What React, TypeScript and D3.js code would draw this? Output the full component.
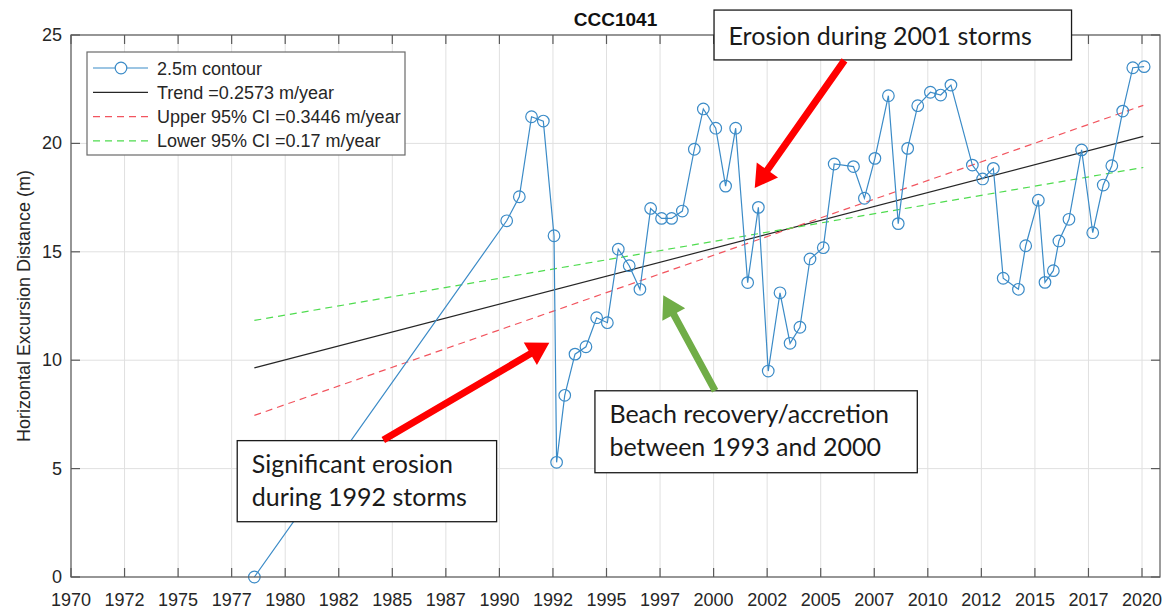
import React from "react";
import * as d3 from "d3";

// ---------- data ----------
const surveyYears = [
  1978.56, 1990.34, 1990.93, 1991.5, 1992.05, 1992.55, 1992.67, 1993.05, 1993.53, 1994.04,
  1994.54, 1995.04, 1995.55, 1996.06, 1996.56, 1997.06, 1997.57, 1998.04, 1998.54, 1999.1,
  1999.52, 2000.1, 2000.56, 2001.03, 2001.59, 2002.09, 2002.55, 2003.1, 2003.57, 2004.03,
  2004.5, 2005.12, 2005.63, 2006.53, 2007.04, 2007.53, 2008.16, 2008.62, 2009.06, 2009.53,
  2010.12, 2010.6, 2011.08, 2012.08, 2012.56, 2013.06, 2013.52, 2014.23, 2014.57, 2015.16,
  2015.47, 2015.86, 2016.12, 2016.59, 2017.18, 2017.7, 2018.19, 2018.59, 2019.1, 2019.57,
  2020.1,
];
const contourValues = [
  0, 16.43, 17.54, 21.23, 21.03, 15.74, 5.29, 8.38, 10.28, 10.62,
  11.96, 11.73, 15.12, 14.36, 13.27, 17.0, 16.54, 16.54, 16.88, 19.73,
  21.59, 20.7, 18.03, 20.7, 13.58, 17.05, 9.5, 13.11, 10.78, 11.52,
  14.67, 15.19, 19.05, 18.93, 17.47, 19.31, 22.2, 16.3, 19.77, 21.74,
  22.36, 22.23, 22.69, 19.0, 18.36, 18.85, 13.78, 13.27, 15.28, 17.38,
  13.59, 14.13, 15.5, 16.5, 19.7, 15.88, 18.08, 18.97, 21.49, 23.49,
  23.54,
];

// regression lines (pass through a common pivot)
const fitRange = [1978.56, 2020.06];
const fitPivot = [2003.65, 16.1];
const fitSlopes = [0.2573, 0.3446, 0.17]; // trend, upper CI, lower CI

const xTickValues = [
  1970, 1972.5, 1975, 1977.5, 1980, 1982.5, 1985, 1987.5, 1990, 1992.5, 1995,
  1997.5, 2000, 2002.5, 2005, 2007.5, 2010, 2012.5, 2015, 2017.5, 2020,
];
const xTickLabels = [
  "1970", "1972", "1975", "1977", "1980", "1982", "1985", "1987", "1990", "1992", "1995",
  "1997", "2000", "2002", "2005", "2007", "2010", "2012", "2015", "2017", "2020",
];
const yTickValues = [0, 5, 10, 15, 20, 25];

const legendLabels = [
  "2.5m contour",
  "Trend =0.2573 m/year",
  "Upper 95% CI =0.3446 m/year",
  "Lower 95% CI =0.17 m/year",
];

const chartTitle = "CCC1041";
const yAxisTitle = "Horizontal Excursion Distance (m)";

// annotation texts and anchor points (in data units)
const annotationTexts = [
  ["Erosion during 2001 storms"],
  ["Significant erosion", "during 1992 storms"],
  ["Beach recovery/accretion", "between 1993 and 2000"],
];
const annotationBoxes = [
  [2000.02, 2016.71, 26.15, 23.85],
  [1977.76, 1989.87, 6.29, 2.55],
  [1994.46, 2009.51, 8.59, 4.81],
];
const arrowTails = [
  [2006.11, 23.83],
  [1984.58, 6.32],
  [2000.07, 8.59],
];
const arrowTips = [
  [2001.92, 17.94],
  [1992.33, 10.81],
  [1997.65, 13.0],
];

// ---------- layout / style ----------
const W = 1169;
const H = 610;
const left = 71;
const right = 1160;
const top = 35;
const bottom = 577;
const FONT = "'Liberation Sans', Arial, Helvetica, sans-serif";
const NOTE_FONT = "Lato, 'Open Sans', sans-serif";
const SERIES_COLOR = "#3b8bc7";
const arrowColors = ["#ff0000", "#ff0000", "#70ad47"];
const fitColors = ["#262626", "#f2555f", "#4fdc4f"];
const fitDash = [null, "7,5", "7,5"];

function arrowPoints(x1: number, y1: number, x2: number, y2: number) {
  const dx = x2 - x1;
  const dy = y2 - y1;
  const len = Math.hypot(dx, dy);
  const ux = dx / len;
  const uy = dy / len;
  const nx = -uy;
  const ny = ux;
  const w = 7;
  const L = 22;
  const HW = 26;
  const bx = x2 - ux * L;
  const by = y2 - uy * L;
  const pts = [
    [x1 + (nx * w) / 2, y1 + (ny * w) / 2],
    [bx + (nx * w) / 2, by + (ny * w) / 2],
    [bx + (nx * HW) / 2, by + (ny * HW) / 2],
    [x2, y2],
    [bx - (nx * HW) / 2, by - (ny * HW) / 2],
    [bx - (nx * w) / 2, by - (ny * w) / 2],
    [x1 - (nx * w) / 2, y1 - (ny * w) / 2],
  ];
  return pts.map((p) => p.join(",")).join(" ");
}

export default function App() {
  const x = d3.scaleLinear().domain([1970, 2020.84]).range([left, right]);
  const y = d3.scaleLinear().domain([0, 25]).range([bottom, top]);

  const points = surveyYears.map((yr, i) => [yr, contourValues[i]] as [number, number]);
  const line = d3
    .line<[number, number]>()
    .x((d) => x(d[0]))
    .y((d) => y(d[1]));

  const fitLines = fitSlopes.map((s) =>
    fitRange.map((yr) => [yr, fitPivot[1] + s * (yr - fitPivot[0])] as [number, number])
  );

  const tickLen = 9;
  const legX0 = 87;
  const legY0 = 52;
  const legW = 318;
  const legH = 103;

  return (
    <div style={{ position: "fixed", left: 0, top: 0, background: "#fff" }}>
      <svg width={W} height={H} style={{ display: "block" }}>
        <rect x={0} y={0} width={W} height={H} fill="#fff" />
        {/* grid */}
        <g stroke="#e0e0e0" strokeWidth={1}>
          {xTickValues.map((v, i) => (
            <line key={"gx" + i} x1={x(v)} x2={x(v)} y1={top} y2={bottom} />
          ))}
          {yTickValues.map((v, i) => (
            <line key={"gy" + i} x1={left} x2={right} y1={y(v)} y2={y(v)} />
          ))}
        </g>

        {/* regression lines */}
        {fitLines.map((d, i) => (
          <path
            key={"fit" + i}
            d={line(d) || ""}
            fill="none"
            stroke={fitColors[i]}
            strokeWidth={1.2}
            strokeDasharray={fitDash[i] || undefined}
          />
        ))}

        {/* series */}
        <path d={line(points) || ""} fill="none" stroke={SERIES_COLOR} strokeWidth={1.2} />
        {points.map((d, i) => (
          <circle
            key={"pt" + i}
            cx={x(d[0])}
            cy={y(d[1])}
            r={5.8}
            fill="none"
            stroke={SERIES_COLOR}
            strokeWidth={1.2}
          />
        ))}

        {/* axes box and ticks */}
        <g stroke="#5a5a5a" strokeWidth={1.2} fill="none">
          <rect x={left} y={top} width={right - left} height={bottom - top} />
          {xTickValues.map((v, i) => (
            <g key={"tx" + i}>
              <line x1={x(v)} x2={x(v)} y1={bottom} y2={bottom - tickLen} />
              <line x1={x(v)} x2={x(v)} y1={top} y2={top + tickLen} />
            </g>
          ))}
          {yTickValues.map((v, i) => (
            <g key={"ty" + i}>
              <line x1={left} x2={left + tickLen} y1={y(v)} y2={y(v)} />
              <line x1={right} x2={right - tickLen} y1={y(v)} y2={y(v)} />
            </g>
          ))}
        </g>

        {/* tick labels */}
        <g fontFamily={FONT} fontSize={18} fill="#262626">
          {xTickValues.map((v, i) => (
            <text key={"lx" + i} x={x(v)} y={606} textAnchor="middle">
              {xTickLabels[i]}
            </text>
          ))}
          {yTickValues.map((v, i) => (
            <text key={"ly" + i} x={62} y={y(v) + 6} textAnchor="end">
              {String(v)}
            </text>
          ))}
        </g>

        {/* axis title & chart title */}
        <text
          transform={`translate(30,${(top + bottom) / 2}) rotate(-90)`}
          textAnchor="middle"
          fontFamily={FONT}
          fontSize={18}
          fill="#262626"
        >
          {yAxisTitle}
        </text>
        <text
          x={(left + right) / 2}
          y={26}
          textAnchor="middle"
          fontFamily={FONT}
          fontSize={19}
          fontWeight="bold"
          fill="#111"
        >
          {chartTitle}
        </text>

        {/* legend */}
        <g>
          <rect x={legX0} y={legY0} width={legW} height={legH} fill="#fff" stroke="#6a6a6a" strokeWidth={1.2} />
          {legendLabels.map((lab, i) => {
            const cy = legY0 + 16 + i * 24.3;
            const color = i === 0 ? SERIES_COLOR : fitColors[i - 1];
            const dash = i === 0 ? null : fitDash[i - 1];
            return (
              <g key={"leg" + i}>
                <line
                  x1={93}
                  x2={148}
                  y1={cy}
                  y2={cy}
                  stroke={color}
                  strokeWidth={1.2}
                  strokeDasharray={dash || undefined}
                />
                {i === 0 && (
                  <circle cx={121} cy={cy} r={5.8} fill="#fff" stroke={SERIES_COLOR} strokeWidth={1.2} />
                )}
                <text x={157} y={cy + 6.5} fontFamily={FONT} fontSize={18} fill="#262626">
                  {lab}
                </text>
              </g>
            );
          })}
        </g>

        {/* annotations */}
        {annotationTexts.map((lines, i) => {
          const [bx0, bx1, by0, by1] = annotationBoxes[i];
          const X0 = x(bx0);
          const X1 = x(bx1);
          const Y0 = y(by0);
          const Y1 = y(by1);
          const firstBase = lines.length === 1 ? Y0 + 35 : Y0 + 32;
          return (
            <g key={"ann" + i}>
              <rect x={X0} y={Y0} width={X1 - X0} height={Y1 - Y0} fill="#fff" stroke="#1a1a1a" strokeWidth={1.3} />
              {lines.map((t, j) => (
                <text
                  key={j}
                  x={X0 + 14.5}
                  y={firstBase + j * 33}
                  fontFamily={NOTE_FONT}
                  fontSize={25}
                  fill="#1a1a1a"
                >
                  {t}
                </text>
              ))}
              <polygon
                points={arrowPoints(
                  x(arrowTails[i][0]),
                  y(arrowTails[i][1]),
                  x(arrowTips[i][0]),
                  y(arrowTips[i][1])
                )}
                fill={arrowColors[i]}
              />
            </g>
          );
        })}
      </svg>
    </div>
  );
}
